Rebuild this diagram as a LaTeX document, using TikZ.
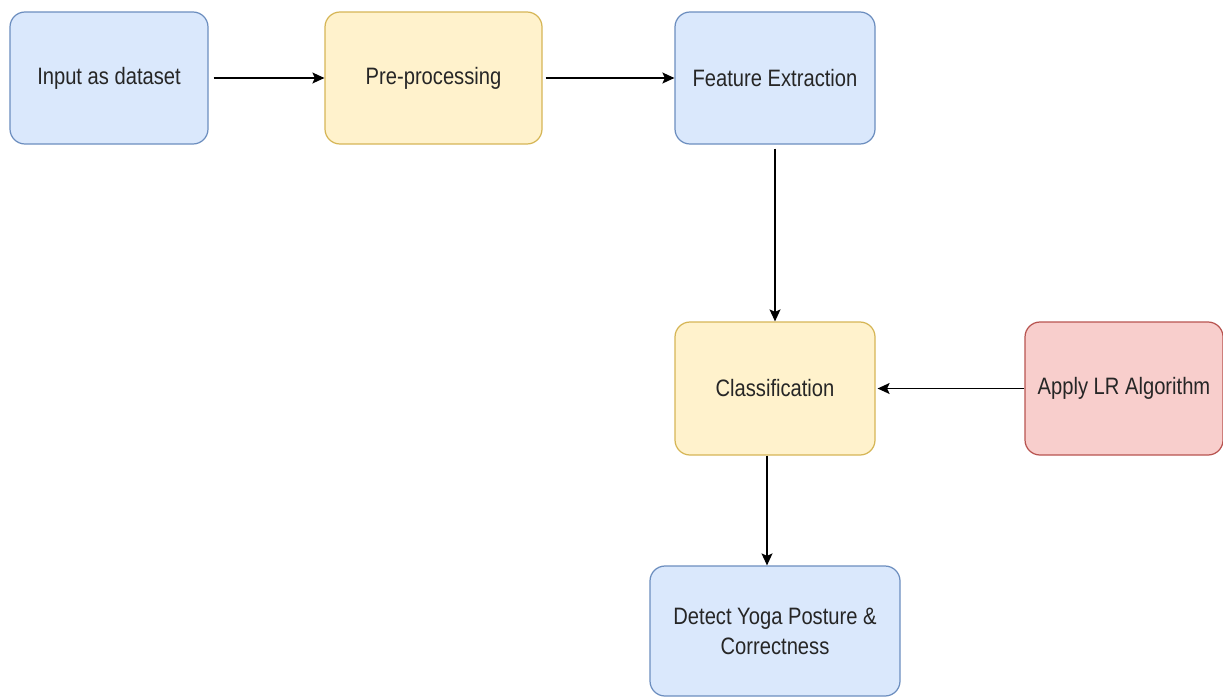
\documentclass[tikz,border=0pt]{standalone}
\usepackage{fontspec}
\newfontfamily\boxfont{Liberation Sans}[FakeStretch=0.85]
\usepackage{tikz}
\usetikzlibrary{arrows.meta}

\definecolor{bluefill}{HTML}{DAE8FC}
\definecolor{blueline}{HTML}{6C8EBF}
\definecolor{yellowfill}{HTML}{FFF2CC}
\definecolor{yellowline}{HTML}{D6B656}
\definecolor{redfill}{HTML}{F8CECC}
\definecolor{redline}{HTML}{B85450}

\begin{document}
\begin{tikzpicture}[
    stage/.style={rectangle, rounded corners=0.3cm, line width=0.7pt, align=center,
        font=\boxfont\fontsize{13.5}{17}\selectfont, text=black!85, inner sep=0pt},
    bluebox/.style={stage, draw=blueline, fill=bluefill},
    yellowbox/.style={stage, draw=yellowline, fill=yellowfill},
    redbox/.style={stage, draw=redline, fill=redfill},
    flow/.style={-{Stealth[length=0.24cm, width=0.22cm, inset=0.05cm]}, line width=0.75pt, black}
]
    \useasboundingbox (0, 0) rectangle (24.46, -13.94);

    % Nodes
    \node[bluebox, minimum width=3.96cm, minimum height=2.64cm] (input) at (2.18, -1.56) {Input as dataset};
    \node[yellowbox, minimum width=4.34cm, minimum height=2.64cm] (prep) at (8.67, -1.56) {Pre-processing};
    \node[bluebox, minimum width=4.0cm, minimum height=2.64cm] (feat) at (15.5, -1.56) {Feature Extraction};
    \node[yellowbox, minimum width=4.0cm, minimum height=2.66cm] (class) at (15.5, -7.77) {Classification};
    \node[redbox, minimum width=3.96cm, minimum height=2.66cm] (algo) at (22.48, -7.77) {Apply LR Algorithm};
    \node[bluebox, minimum width=5.0cm, minimum height=2.6cm] (detect) at (15.5, -12.62) {Detect Yoga Posture \&\\Correctness};

    % Lines
    \draw[flow] ([xshift=0.1cm]input.east) -- (prep.west);
    \draw[flow] ([xshift=0.06cm]prep.east) -- (feat.west);
    \draw[flow] ([yshift=-0.08cm]feat.south) -- (class.north);
    \draw[flow] (algo.west) -- ([xshift=0.04cm]class.east);
    \draw[flow] ([xshift=-0.16cm]class.south) -- ([xshift=-0.16cm]detect.north);

\end{tikzpicture}
\end{document}
